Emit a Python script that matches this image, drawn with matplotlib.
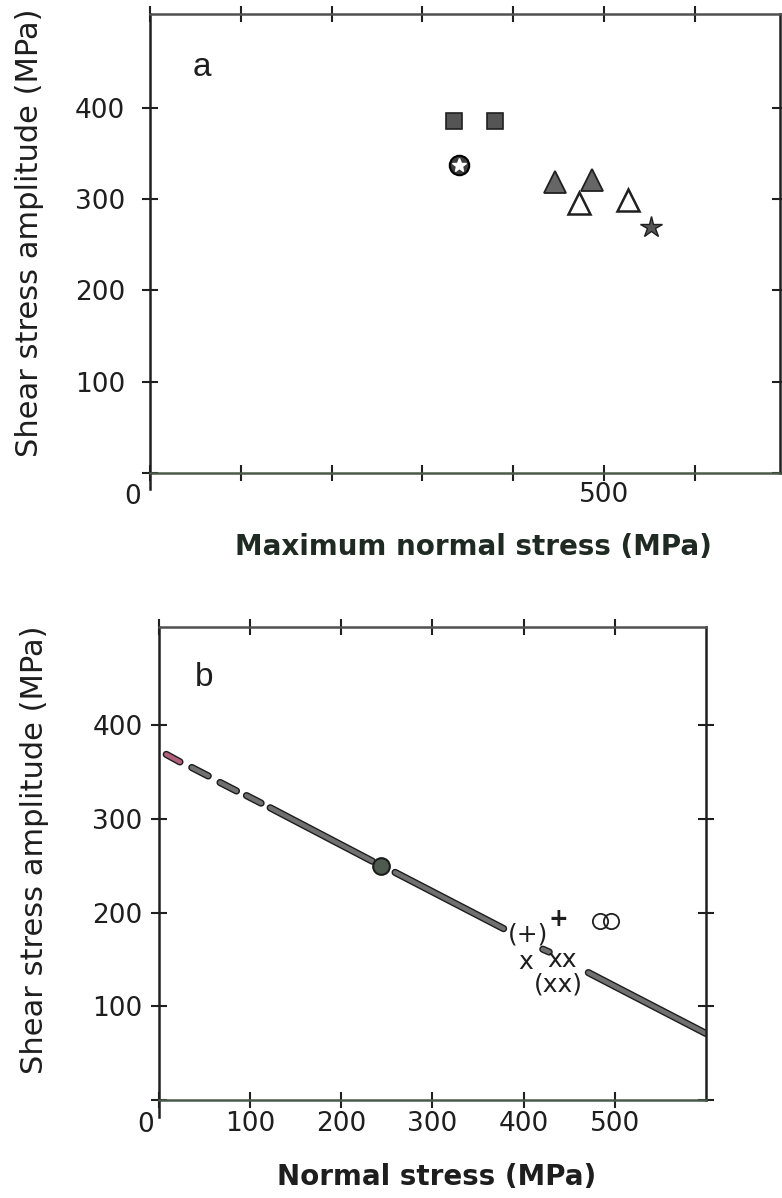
import numpy as np
import matplotlib
matplotlib.use("Agg")
import matplotlib.pyplot as plt
import matplotlib.patheffects as pe

# Pannello a: valori (MPa)
quad_x = [335, 380]
quad_y = [386, 386]
cerchio_stella_x = [340]
cerchio_stella_y = [337]
tri_pieni_x = [446, 487]
tri_pieni_y = [319, 321]
tri_vuoti_x = [473, 527]
tri_vuoti_y = [296, 299]
stella_x = [552]
stella_y = [270]

# Pannello b: tratti della retta (inizio / fine di ogni tratto)
tratti_x0 = [8, 36, 67, 96, 122, 259, 421, 471]
tratti_x1 = [23, 54, 85, 112, 234, 378, 428, 600]
tratti_y0 = [369, 355, 339, 325, 312, 243, 161, 136]
tratti_y1 = [361, 346, 330, 317, 255, 183, 158, 71]
punto_x = [243]
punto_y = [250]
anelli_x = [484, 496]
anelli_y = [191, 191]
simboli = ["(+)", "x", "xx", "(xx)"]
simboli_x = [405, 402, 442, 438]
simboli_y = [177, 147, 149, 123]
piu_x = [438]
piu_y = [193]

tick_a_x = [0, 100, 200, 300, 400, 500, 600]
etichette_a_x = ["", "", "", "", "", "500", ""]
tick_a_y = [0, 100, 200, 300, 400]
tick_b_x = [0, 100, 200, 300, 400, 500]
etichette_b_x = ["", "100", "200", "300", "400", "500"]
tick_b_y = [0, 100, 200, 300, 400]

plt.rcParams["font.family"] = ["DejaVu Sans"]
col_testo = "#1e1e1e"

fig = plt.figure(figsize=(7.82, 11.98), dpi=100)
ax_a = fig.add_axes([0.1918, 0.6052, 0.8056, 0.3831])
ax_b = fig.add_axes([0.2033, 0.0818, 0.6995, 0.3948])


def stile_assi(ax, xt, xl, yt, pad_y, pad_x):
    for lato in ["left", "right", "top", "bottom"]:
        ax.spines[lato].set_linewidth(1.8)
        ax.spines[lato].set_color("#202020")
    ax.spines["top"].set_color("#505050")
    ax.spines["bottom"].set_color("#4a5a4a")
    ax.set_xticks(xt)
    ax.set_xticklabels(xl)
    ax.set_yticks(yt)
    ax.set_yticklabels([str(v) if v > 0 else "" for v in yt])
    ax.tick_params(axis="both", direction="inout", length=11.5, width=1.5,
                   color="#202020", labelsize=19, labelcolor=col_testo,
                   top=True, right=True)
    ax.tick_params(axis="y", pad=pad_y)
    ax.tick_params(axis="x", pad=pad_x)
    # prolungamento dell'asse sinistro sotto l'origine
    ax.plot([0, 0], [-0.035, 0], transform=ax.transAxes, color="#202020",
            lw=1.8, clip_on=False)


# --- Pannello a ---
ax = ax_a
ax.set_xlim(0, 694)
ax.set_ylim(0, 503)
stile_assi(ax, tick_a_x, etichette_a_x, tick_a_y, 12.0, 1.0)
ax.plot(quad_x, quad_y, "s", ms=11, mfc="#555555", mec="#202020", mew=1.2)
ax.plot(cerchio_stella_x, cerchio_stella_y, "o", ms=14, mfc="#3c3c3c",
        mec="black", mew=1.5)
ax.plot(cerchio_stella_x, cerchio_stella_y, "*", ms=10, mfc="white",
        mec="white")
ax.plot(tri_pieni_x, tri_pieni_y, "^", ms=16, mfc="#666666", mec="#202020",
        mew=1.3)
ax.plot(tri_vuoti_x, tri_vuoti_y, "^", ms=16, mfc="white", mec="#202020",
        mew=1.8)
ax.plot(stella_x, stella_y, "*", ms=16, mfc="#555555", mec="#202020", mew=1)
ax.text(57, 444, "a", fontsize=24, ha="center", va="center",
        family="Liberation Sans", color=col_testo)
ax.annotate("0", xy=(0, 0), xytext=(-17, -24), textcoords="offset pixels",
            ha="center", va="center", fontsize=19, color=col_testo)
ax.set_xlabel("Maximum normal stress (MPa)", fontsize=20, fontweight="bold",
              color="#1f2a22")
ax.xaxis.set_label_coords(0.514, -0.161)
ax.xaxis.label.set_va("center")
ax.set_ylabel("Shear stress amplitude (MPa)", fontsize=22, color=col_testo)
ax.yaxis.set_label_coords(-0.192, 0.523)
ax.yaxis.label.set_va("center")

# --- Pannello b ---
ax = ax_b
ax.set_xlim(0, 600)
ax.set_ylim(0, 505)
stile_assi(ax, tick_b_x, etichette_b_x, tick_b_y, 6.0, 2.5)
ombra = [pe.Stroke(linewidth=5.2, foreground="#1c1c1c"), pe.Normal()]
for i in range(len(tratti_x0)):
    colore = "#b0607a" if i == 0 else "#707070"
    ax.plot([tratti_x0[i], tratti_x1[i]], [tratti_y0[i], tratti_y1[i]],
            color=colore, lw=3.2, solid_capstyle="round", path_effects=ombra)
ax.plot(punto_x, punto_y, "o", ms=12, mfc="#4e5a4e", mec="#1c1c1c", mew=1.5)
ax.plot(anelli_x, anelli_y, "o", ms=11, mfc="none", mec="#202020", mew=1.3)
for s, x, y in zip(simboli, simboli_x, simboli_y):
    ax.text(x, y, s, ha="center", va="center", fontsize=18, color=col_testo)
ax.text(piu_x[0], piu_y[0], "+", ha="center", va="center", fontsize=17,
        fontweight="bold", color=col_testo)
ax.text(50, 451, "b", fontsize=24, ha="center", va="center",
        family="Liberation Sans", color=col_testo)
ax.annotate("0", xy=(0, 0), xytext=(-13, -25), textcoords="offset pixels",
            ha="center", va="center", fontsize=19, color=col_testo)
ax.set_xlabel("Normal stress (MPa)", fontsize=20, fontweight="bold",
              color=col_testo)
ax.xaxis.set_label_coords(0.507, -0.163)
ax.xaxis.label.set_va("center")
ax.set_ylabel("Shear stress amplitude (MPa)", fontsize=22, color=col_testo)
ax.yaxis.set_label_coords(-0.228, 0.529)
ax.yaxis.label.set_va("center")

plt.savefig("out.png", dpi=100)
print("Figura salvata: out.png")
